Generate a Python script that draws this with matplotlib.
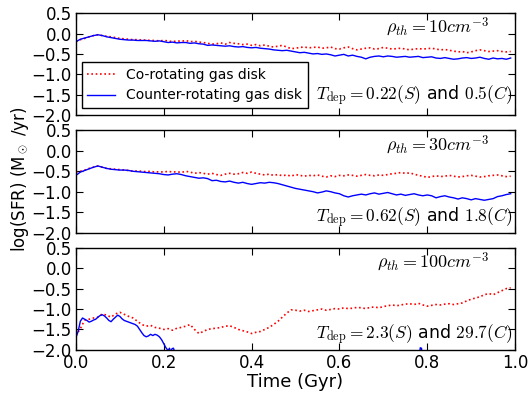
import numpy as np
import matplotlib
matplotlib.use("Agg")
import matplotlib.pyplot as plt

# ---------------- data ----------------
time = np.round(np.arange(0, 1.0, 0.01), 2)

co_10 = [-0.20, -0.15, -0.12, -0.08, -0.05, -0.03, -0.05, -0.07, -0.08, -0.10,
         -0.12, -0.13, -0.14, -0.15, -0.15, -0.16, -0.16, -0.17, -0.17, -0.18,
         -0.17, -0.18, -0.20, -0.18, -0.19, -0.17, -0.20, -0.19, -0.21, -0.22,
         -0.24, -0.26, -0.25, -0.23, -0.26, -0.22, -0.24, -0.25, -0.27, -0.26,
         -0.29, -0.27, -0.30, -0.28, -0.31, -0.33, -0.31, -0.29, -0.33, -0.37,
         -0.36, -0.34, -0.33, -0.35, -0.34, -0.33, -0.36, -0.35, -0.33, -0.37,
         -0.38, -0.35, -0.33, -0.37, -0.40, -0.38, -0.36, -0.35, -0.38, -0.37,
         -0.34, -0.36, -0.38, -0.37, -0.36, -0.38, -0.40, -0.38, -0.37, -0.38,
         -0.37, -0.36, -0.38, -0.40, -0.39, -0.41, -0.43, -0.45, -0.44, -0.47,
         -0.45, -0.42, -0.40, -0.42, -0.44, -0.43, -0.42, -0.44, -0.45, -0.44]

counter_10 = [-0.20, -0.14, -0.11, -0.08, -0.05, -0.03, -0.05, -0.08, -0.10, -0.12,
              -0.14, -0.15, -0.16, -0.16, -0.17, -0.17, -0.17, -0.18, -0.19, -0.18,
              -0.20, -0.22, -0.21, -0.23, -0.22, -0.22, -0.24, -0.23, -0.25, -0.26,
              -0.29, -0.28, -0.29, -0.30, -0.31, -0.30, -0.32, -0.33, -0.32, -0.34,
              -0.35, -0.34, -0.36, -0.37, -0.38, -0.40, -0.41, -0.42, -0.41, -0.43,
              -0.45, -0.47, -0.46, -0.48, -0.50, -0.49, -0.51, -0.50, -0.52, -0.55,
              -0.53, -0.51, -0.55, -0.53, -0.56, -0.58, -0.62, -0.58, -0.56, -0.55,
              -0.57, -0.55, -0.56, -0.58, -0.57, -0.56, -0.58, -0.57, -0.56, -0.59,
              -0.58, -0.57, -0.60, -0.61, -0.59, -0.61, -0.63, -0.62, -0.60, -0.59,
              -0.61, -0.60, -0.58, -0.61, -0.63, -0.60, -0.62, -0.61, -0.63, -0.60]

co_30 = [-0.52, -0.50, -0.47, -0.43, -0.40, -0.37, -0.40, -0.43, -0.44, -0.45,
         -0.46, -0.47, -0.48, -0.50, -0.49, -0.50, -0.51, -0.50, -0.52, -0.51,
         -0.52, -0.50, -0.52, -0.51, -0.53, -0.50, -0.52, -0.55, -0.53, -0.55,
         -0.57, -0.55, -0.58, -0.60, -0.57, -0.55, -0.57, -0.56, -0.53, -0.55,
         -0.52, -0.55, -0.57, -0.59, -0.57, -0.60, -0.58, -0.61, -0.59, -0.62,
         -0.58, -0.60, -0.62, -0.60, -0.61, -0.59, -0.62, -0.64, -0.61, -0.63,
         -0.60, -0.61, -0.59, -0.60, -0.62, -0.60, -0.58, -0.60, -0.61, -0.59,
         -0.60, -0.58, -0.56, -0.55, -0.53, -0.55, -0.54, -0.57, -0.60, -0.62,
         -0.65, -0.63, -0.61, -0.63, -0.62, -0.60, -0.62, -0.64, -0.63, -0.61,
         -0.60, -0.62, -0.64, -0.63, -0.61, -0.60, -0.59, -0.61, -0.63, -0.62]

counter_30 = [-0.60, -0.52, -0.48, -0.44, -0.40, -0.37, -0.40, -0.43, -0.45, -0.46,
              -0.47, -0.47, -0.48, -0.50, -0.51, -0.52, -0.53, -0.54, -0.55, -0.56,
              -0.58, -0.59, -0.57, -0.56, -0.58, -0.61, -0.63, -0.65, -0.67, -0.66,
              -0.68, -0.73, -0.72, -0.75, -0.76, -0.74, -0.77, -0.79, -0.77, -0.80,
              -0.82, -0.80, -0.78, -0.79, -0.77, -0.78, -0.80, -0.83, -0.86, -0.89,
              -0.92, -0.94, -0.96, -0.98, -1.00, -1.03, -1.01, -0.98, -1.00, -1.03,
              -1.05, -1.10, -1.13, -1.10, -1.08, -1.06, -1.08, -1.05, -1.03, -1.06,
              -1.04, -1.02, -1.05, -1.08, -1.06, -1.09, -1.07, -1.05, -1.08, -1.10,
              -1.08, -1.10, -1.15, -1.12, -1.10, -1.13, -1.15, -1.18, -1.15, -1.17,
              -1.20, -1.17, -1.19, -1.21, -1.19, -1.17, -1.12, -1.10, -1.07, -1.05]

co_100 = [-1.65, -1.48, -1.27, -1.25, -1.22, -1.20, -1.12, -1.15, -1.20, -1.12,
          -1.08, -1.13, -1.18, -1.22, -1.30, -1.38, -1.42, -1.40, -1.45, -1.47,
          -1.50, -1.48, -1.52, -1.47, -1.45, -1.42, -1.38, -1.50, -1.60, -1.55,
          -1.50, -1.48, -1.47, -1.45, -1.42, -1.41, -1.45, -1.50, -1.53, -1.56,
          -1.60, -1.57, -1.55, -1.50, -1.45, -1.38, -1.30, -1.20, -1.10, -1.02,
          -1.03, -1.05, -1.03, -1.06, -1.04, -1.02, -1.00, -1.03, -1.01, -0.99,
          -1.00, -0.97, -0.99, -0.98, -0.96, -0.97, -0.99, -0.96, -0.95, -0.97,
          -0.94, -0.92, -0.90, -0.92, -0.90, -0.88, -0.87, -0.89, -0.86, -0.90,
          -0.93, -0.91, -0.89, -0.90, -0.88, -0.87, -0.89, -0.87, -0.85, -0.80,
          -0.76, -0.73, -0.70, -0.65, -0.62, -0.65, -0.60, -0.55, -0.50, -0.48]

time_counter_100 = [0.000, 0.005, 0.010, 0.015, 0.020, 0.025, 0.030, 0.035, 0.040, 0.045,
                    0.050, 0.055, 0.060, 0.065, 0.070, 0.075, 0.080, 0.085, 0.090, 0.095,
                    0.100, 0.105, 0.110, 0.115, 0.120, 0.125, 0.130, 0.135, 0.140, 0.145,
                    0.150, 0.155, 0.160, 0.165, 0.170, 0.175, 0.180, 0.185, 0.190, 0.195,
                    0.200, 0.205, 0.210, 0.213, 0.216, 0.219, 0.222, 0.225, 0.230,
                    0.780, 0.784, 0.787, 0.790, 0.990]
counter_100 = [-1.70, -1.55, -1.30, -1.22, -1.25, -1.28, -1.32, -1.30, -1.27, -1.25,
               -1.20, -1.16, -1.14, -1.17, -1.22, -1.28, -1.31, -1.25, -1.20, -1.15,
               -1.18, -1.24, -1.28, -1.30, -1.32, -1.34, -1.36, -1.38, -1.42, -1.50,
               -1.58, -1.65, -1.68, -1.66, -1.62, -1.65, -1.62, -1.64, -1.68, -1.75,
               -1.85, -1.95, -2.02, -1.96, -2.05, -1.97, -1.96, -2.05, -2.50,
               -2.50, -1.95, -1.96, -2.50, -2.50]

rho_labels = [r"$\rho_{th}=10cm^{-3}$", r"$\rho_{th}=30cm^{-3}$", r"$\rho_{th}=100cm^{-3}$"]
tdep_labels = [r"$T_{\rm dep}=0.22(S)$ and $0.5(C)$",
               r"$T_{\rm dep}=0.62(S)$ and $1.8(C)$",
               r"$T_{\rm dep}=2.3(S)$ and $29.7(C)$"]
yticks = [0.5, 0.0, -0.5, -1.0, -1.5, -2.0]
xticks = [0.0, 0.2, 0.4, 0.6, 0.8, 1.0]

# ---------------- style ----------------
plt.rcParams.update({
    "font.family": "DejaVu Sans",
    "mathtext.fontset": "cm",
    "font.size": 12,
    "xtick.direction": "in",
    "ytick.direction": "in",
    "xtick.top": True,
    "ytick.right": True,
    "xtick.major.size": 5,
    "ytick.major.size": 5,
    "xtick.major.pad": 3,
    "ytick.major.pad": 3,
    "axes.linewidth": 1.0,
    "lines.dotted_pattern": [1, 1.6],
})

fig = plt.figure(figsize=(5.31, 3.98), dpi=100)
gs = fig.add_gridspec(3, 1, left=0.143, right=0.970, top=0.967, bottom=0.121, hspace=0.15)
axes = [fig.add_subplot(gs[i]) for i in range(3)]

series = [(time, co_10, time, counter_10),
          (time, co_30, time, counter_30),
          (time, co_100, time_counter_100, counter_100)]
tdep_y = [0.19, 0.15, 0.15]

for i, ax in enumerate(axes):
    tc, co, tn, cn = series[i]
    ax.plot(tc, co, color="red", linestyle=":", linewidth=1.2, label="Co-rotating gas disk")
    ax.plot(tn, cn, color="blue", linestyle="-", linewidth=1.0, label="Counter-rotating gas disk")
    ax.set_xlim(0, 1.0)
    ax.set_ylim(-2.0, 0.5)
    ax.set_yticks(yticks)
    ax.set_xticks(xticks)
    if i < 2:
        ax.set_xticklabels([])
    ax.text(0.94, 0.865, rho_labels[i], transform=ax.transAxes, ha="right", va="center", fontsize=13)
    ax.text(0.995, tdep_y[i], tdep_labels[i], transform=ax.transAxes, ha="right", va="center", fontsize=12.5)

leg = axes[0].legend(loc="lower left", bbox_to_anchor=(0.013, 0.07), fontsize=10, frameon=True,
                     fancybox=False, edgecolor="black", framealpha=1, borderaxespad=0.0,
                     handlelength=2.0)
leg.get_frame().set_linewidth(1.0)

axes[2].set_xlabel("Time (Gyr)", fontsize=13, labelpad=1)
fig.text(0.038, 0.55, r"log(SFR) (M$_\odot$ /yr)", rotation=90, ha="center", va="center", fontsize=12)

fig.savefig("out.png", dpi=100)
